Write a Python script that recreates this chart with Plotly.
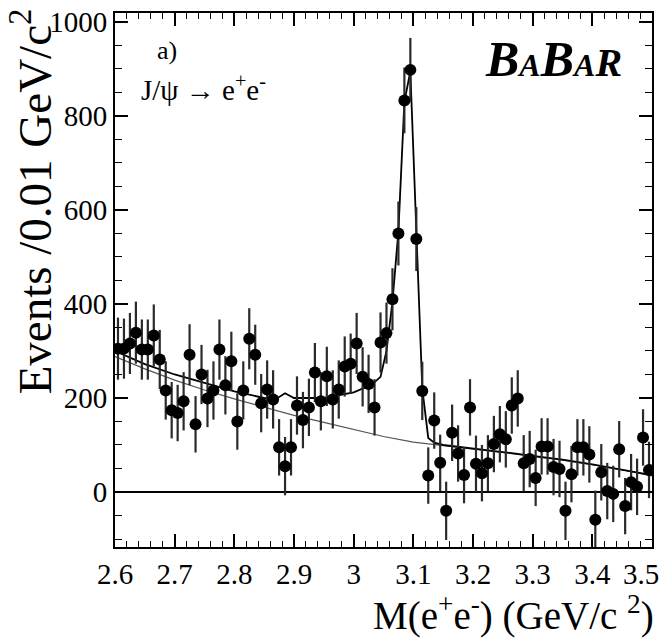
import plotly.graph_objects as go

# bin centres (0.01 GeV/c^2 bins)
mass = [2.605, 2.615, 2.625, 2.635, 2.645, 2.655, 2.665, 2.675, 2.685, 2.695,
        2.705, 2.715, 2.725, 2.735, 2.745, 2.755, 2.765, 2.775, 2.785, 2.795,
        2.805, 2.815, 2.825, 2.835, 2.845, 2.855, 2.865, 2.875, 2.885, 2.895,
        2.905, 2.915, 2.925, 2.935, 2.945, 2.955, 2.965, 2.975, 2.985, 2.995,
        3.005, 3.015, 3.025, 3.035, 3.045, 3.055, 3.065, 3.075, 3.085, 3.095,
        3.105, 3.115, 3.125, 3.135, 3.145, 3.155, 3.165, 3.175, 3.185, 3.195,
        3.205, 3.215, 3.225, 3.235, 3.245, 3.255, 3.265, 3.275, 3.285, 3.295,
        3.305, 3.315, 3.325, 3.335, 3.345, 3.355, 3.365, 3.375, 3.385, 3.395,
        3.405, 3.415, 3.425, 3.435, 3.445, 3.455, 3.465, 3.475, 3.485, 3.495]

events = [305, 305, 316, 339, 303, 303, 333, 282, 216, 174,
          168, 193, 292, 144, 250, 199, 216, 303, 227, 278,
          150, 216, 326, 292, 189, 218, 197, 95, 55, 95,
          184, 153, 180, 254, 193, 246, 197, 218, 267, 273,
          316, 245, 230, 180, 318, 338, 410, 550, 833, 898,
          538, 215, 35, 152, 62, -40, 126, 82, 36, 180,
          60, 40, 61, 102, 123, 112, 184, 199, 61, 70,
          30, 97, 97, 53, 49, -40, 38, 95, 95, 80,
          -59, 42, 2, -4, 91, -30, 21, 11, 116, 47]

errors = [66, 64, 65, 66, 64, 64, 66, 63, 62, 60,
          60, 62, 65, 60, 63, 61, 62, 64, 62, 63,
          60, 62, 65, 64, 62, 62, 62, 60, 62, 60,
          62, 60, 61, 63, 62, 63, 62, 62, 64, 64,
          65, 63, 62, 60, 64, 65, 66, 68, 70, 68,
          68, 62, 60, 60, 60, 62, 60, 60, 60, 60,
          60, 60, 60, 60, 60, 60, 60, 60, 60, 60,
          60, 60, 60, 60, 60, 62, 60, 60, 60, 60,
          62, 60, 60, 60, 60, 60, 60, 60, 60, 60]

# total fit (signal + radiative tail + background)
fit_x = [2.60, 2.65, 2.70, 2.75, 2.80, 2.85, 2.87, 2.885, 2.90, 2.95,
         3.00, 3.03, 3.045, 3.055, 3.065, 3.075, 3.085, 3.095, 3.105,
         3.115, 3.125, 3.135, 3.15, 3.20, 3.25, 3.30, 3.35, 3.40, 3.45, 3.50]
fit_y = [300, 272, 250, 232, 214, 200, 198, 210, 200, 200,
         212, 228, 245, 300, 405, 555, 830, 895, 545,
         220, 115, 105, 100, 93, 85, 77, 69, 59, 48, 36]

# background only
bkg_x = [2.60, 2.65, 2.70, 2.75, 2.80, 2.85, 2.90, 2.95, 3.00, 3.05,
         3.10, 3.15, 3.20, 3.25, 3.30, 3.35, 3.40, 3.45, 3.50]
bkg_y = [288, 262, 238, 217, 198, 180, 163, 148, 133, 118,
         106, 99, 92, 84, 76, 68, 58, 47, 34]

x_ticks = [2.6, 2.7, 2.8, 2.9, 3.0, 3.1, 3.2, 3.3, 3.4, 3.5]
x_ticktext = ["2.6", "2.7", "2.8", "2.9", "3", "3.1", "3.2", "3.3", "3.4", "3.5\u00a0\u00a0\u00a0"]

x_range = [2.6, 3.5]
y_range = [-117, 1019]

font_serif = "Liberation Serif"

fig = go.Figure()

fig.add_trace(go.Scatter(
    x=bkg_x, y=bkg_y, mode='lines',
    line=dict(color='#555555', width=1.2),
    showlegend=False))

fig.add_trace(go.Scatter(
    x=fit_x, y=fit_y, mode='lines',
    line=dict(color='black', width=1.8),
    showlegend=False))

fig.add_trace(go.Scatter(
    x=mass, y=events, mode='markers',
    marker=dict(color='black', size=12),
    error_y=dict(type='data', array=errors, width=0, thickness=2.2, color='#2a2a2a'),
    showlegend=False))

# invisible trace so the mirror axes (top/right) get drawn
fig.add_trace(go.Scatter(
    x=[2.6], y=[0], xaxis='x2', yaxis='y2', mode='markers',
    marker=dict(opacity=0), hoverinfo='skip', showlegend=False))

# page puts the figure 8px in from the top-left corner, so size/margins allow for that
fig.update_layout(
    width=664, height=631,
    margin=dict(l=107, r=20, t=5, b=92),
    plot_bgcolor='white', paper_bgcolor='white',
    font=dict(family=font_serif, color='black'),
    annotations=[
        dict(text="Events /0.01 GeV/c<sup>2</sup>", textangle=-90,
             xref='paper', yref='paper', x=-0.155, y=1.012,
             xanchor='center', yanchor='top', showarrow=False,
             font=dict(size=47, family=font_serif)),
        dict(text="M(e<sup>+</sup>e<sup>-</sup>) (GeV/c <sup>2</sup>)",
             xref='paper', yref='paper', x=1.0, y=-0.125, xshift=4,
             xanchor='right', yanchor='middle', showarrow=False,
             font=dict(size=39, family=font_serif)),
        dict(text="a)", xref='paper', yref='paper', x=0.075, y=0.93,
             xanchor='left', yanchor='middle', showarrow=False,
             font=dict(size=26, family=font_serif)),
        dict(text="J/\u03c8 \u2192 e<sup>+</sup>e<sup>-</sup>", xref='paper', yref='paper',
             x=0.045, y=0.86, xanchor='left', yanchor='middle', showarrow=False,
             font=dict(size=29, family=font_serif)),
        dict(text="<b><i>B<span style='font-size:32px'>A</span>B"
                  "<span style='font-size:32px'>A</span><span style='font-size:40px'>R</span></i></b>",
             xref='paper', yref='paper', x=0.685, y=0.914,
             xanchor='left', yanchor='middle', showarrow=False,
             font=dict(size=50, family=font_serif)),
    ])

axis_common = dict(
    showline=True, linecolor='black', linewidth=2,
    ticks='inside', ticklen=13, tickwidth=1.5, tickcolor='black',
    showgrid=False, automargin=False)

fig.update_layout(
    xaxis=dict(axis_common, range=x_range, tickvals=x_ticks, ticktext=x_ticktext,
               ticklabeloverflow='allow',
               minor=dict(dtick=0.02, tick0=2.6, ticks='inside', ticklen=6, tickcolor='black', tickwidth=1),
               zeroline=False, tickfont=dict(size=29, family=font_serif)),
    yaxis=dict(axis_common, range=y_range, dtick=200, tick0=0,
               ticklabeloverflow='allow',
               minor=dict(dtick=50, ticks='inside', ticklen=7, tickcolor='black', tickwidth=1),
               zeroline=True, zerolinecolor='black', zerolinewidth=1.5,
               tickfont=dict(size=29, family=font_serif)),
    xaxis2=dict(axis_common, range=x_range, overlaying='x', side='top', anchor='y2',
                tickvals=x_ticks, showticklabels=False, zeroline=False,
                minor=dict(dtick=0.02, tick0=2.6, ticks='inside', ticklen=6, tickcolor='black', tickwidth=1)),
    yaxis2=dict(axis_common, range=y_range, overlaying='y', side='right', anchor='x2',
                dtick=200, tick0=0, showticklabels=False, zeroline=False,
                minor=dict(dtick=50, ticks='inside', ticklen=7, tickcolor='black', tickwidth=1)),
)

fig.write_html("out.html")
